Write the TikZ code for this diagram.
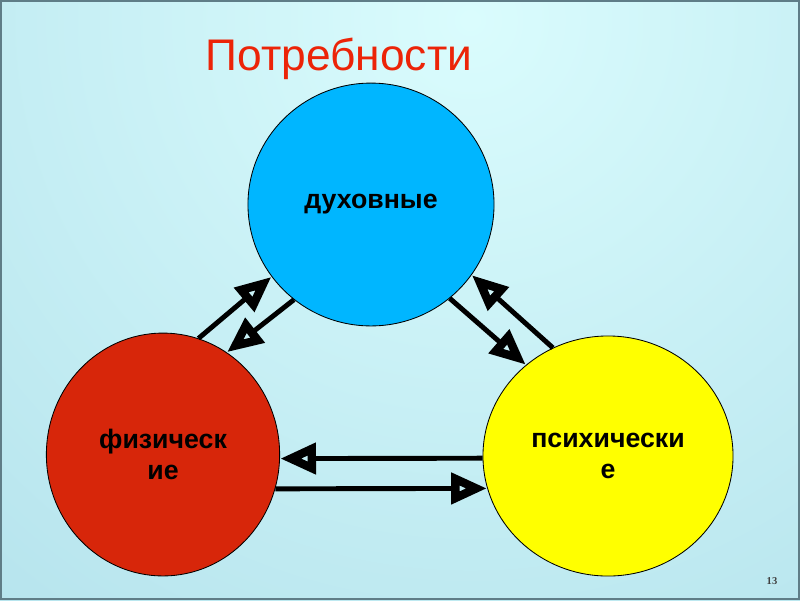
\documentclass[tikz,border=0pt]{standalone}
\usepackage{fontspec}
\setmainfont{Liberation Sans}
\newfontfamily\numfont{Liberation Serif}
\usepackage{tikz}
\usetikzlibrary{shapes.geometric, arrows.meta, positioning}

\definecolor{bgcenter}{RGB}{218,252,253}
\definecolor{bgedge}{RGB}{166,217,230}
\definecolor{frame}{RGB}{95,125,135}
\definecolor{titlered}{RGB}{236,36,8}
\definecolor{skyblue}{RGB}{0,182,255}
\definecolor{firered}{RGB}{215,38,10}
\definecolor{sunyellow}{RGB}{255,255,0}

\begin{document}
\begin{tikzpicture}[
  x=0.025cm, y=-0.025cm,
  need/.style={draw=black, line width=0.6pt, ellipse, inner sep=0pt, align=center,
    font=\fontsize{19}{21.5}\selectfont\bfseries},
  link/.style={line width=3.5pt, -{Triangle[open, length=9mm, width=7.4mm, line width=6pt]}}
]
\useasboundingbox (0,0) rectangle (800,600);

% ----- Fond -----
\begin{scope}
  \clip (0,0) rectangle (800,600);
  \fill[bgedge] (0,0) rectangle (800,600);
  \shade[inner color=bgcenter, outer color=bgedge] (470,20) circle (1100);
\end{scope}
\draw[frame, line width=1.2pt] (0.8,0.8) rectangle (799.2,599.2);

% ----- Titre -----
\node[anchor=base, text=titlered, font=\fontsize{31.5}{36}\selectfont] (title) at (339,70) {Потребности};

% ----- Cercles -----
\node[need, fill=skyblue, minimum width=6.15cm, minimum height=6.07cm] (spirit) at (371,204.5) {духовные};
\node[need, fill=firered, minimum width=5.83cm, minimum height=6.07cm] (body) at (163,454.5) {физическ\\ие};
\node[need, fill=sunyellow, minimum width=6.25cm, minimum height=6.0cm] (mind) at (608,456) {психически\\е};

% ----- Fleches -----
\draw[link] (body.73) -- (spirit.216);
\draw[link] (spirit.231) -- (body.58);
\draw[link] (spirit.-50) -- (mind.132);
\draw[link] (mind.117) -- (spirit.-35);
\draw[link] (mind.181) -- (body.-2);
\draw[link] (body.-17) -- (mind.195);

% ----- Numero -----
\node[font=\numfont\fontsize{7.5}{9}\selectfont\bfseries, text=black!75] (pagenum) at (772,581) {13};

\end{tikzpicture}
\end{document}
